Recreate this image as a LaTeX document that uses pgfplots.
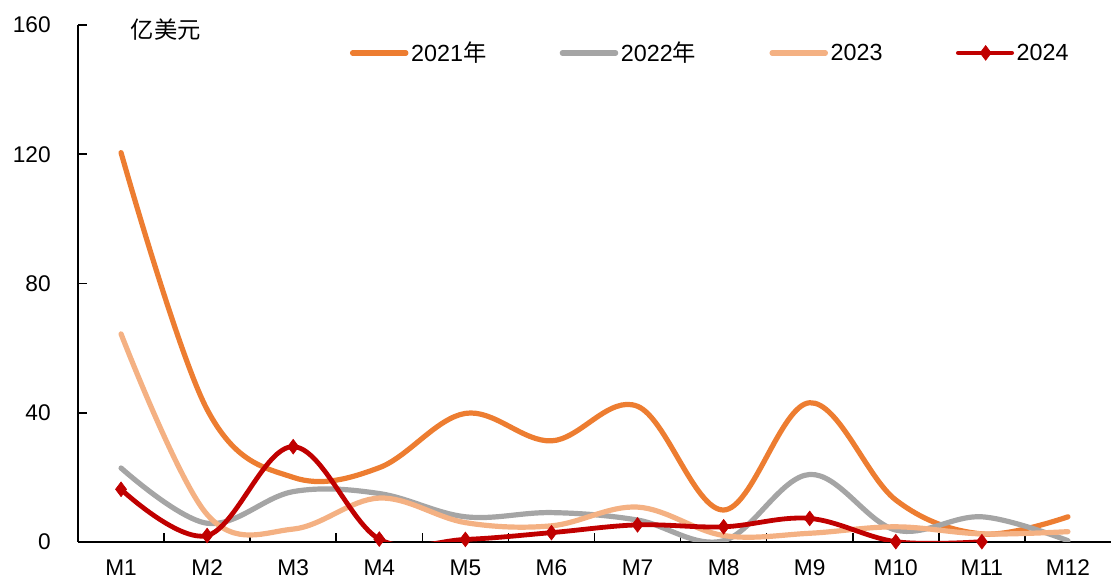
\documentclass[border=0pt]{standalone}
\usepackage{fontspec}
\setmainfont{Liberation Sans}
\newfontfamily\cjk{Noto Sans CJK SC}
\usepackage{pgfplots}
\pgfplotsset{compat=1.18}
\usetikzlibrary{calc}
\definecolor{c21}{HTML}{ED7D31}
\definecolor{c22}{HTML}{A5A5A5}
\definecolor{c23}{HTML}{F4B183}
\definecolor{c24}{HTML}{C00000}
\begin{document}
\begin{tikzpicture}
\begin{axis}[
  scale only axis, width=774.75pt, height=387.75pt,
  xmin=0.5, xmax=12.5, ymin=0, ymax=160,
  axis x line=bottom, axis y line=left,
  axis line style={line width=1.2pt,-},
  tick align=inside,
  xtick={1.5,2.5,...,11.5}, xticklabels={},
  major tick length=6.5pt,
  tick style={line width=1.2pt, black},
  extra x ticks={1,2,...,12},
  extra x tick labels={M1,M2,M3,M4,M5,M6,M7,M8,M9,M10,M11,M12},
  extra x tick style={major tick length=0pt},
  ytick={0,40,80,120,160},
  every tick label/.append style={font=\fontsize{17}{20}\selectfont, black},
  /pgf/number format/assume math mode=true,
  xticklabel style={yshift=-10pt},
  yticklabel style={xshift=-17pt},
  legend columns=4,
  legend cell align=left,
  legend style={at={(0.263,0.946)}, anchor=west, draw=none, fill=none, inner sep=0pt,
    font=\fontsize{17.5}{20}\selectfont,
    /tikz/every even column/.append style={column sep=53pt}},
  legend image code/.code={\draw[mark repeat=2,mark phase=2,#1] plot coordinates {(0pt,0pt) (20.5pt,0pt) (40pt,0pt)};},
  clip mode=individual,
]
\addplot[c21, line width=3.9pt, smooth, tension=0.6, line cap=round] coordinates {
(1,120.5) (2,41) (3,20) (4,23) (5,39.8) (6,31.3) (7,42) (8,9.9) (9,43.1) (10,13) (11,2.5) (12,7.8)};
\addlegendentry{2021{\cjk 年}}
\addplot[c22, line width=3.9pt, smooth, tension=0.6, line cap=round] coordinates {
(1,22.9) (2,5.8) (3,15.6) (4,15) (5,7.8) (6,9.1) (7,6.8) (8,0.4) (9,20.9) (10,3.7) (11,7.8) (12,0.4)};
\addlegendentry{2022{\cjk 年}}
\addplot[c23, line width=3.9pt, smooth, tension=0.6, line cap=round] coordinates {
(1,64.4) (2,8.5) (3,4) (4,13.6) (5,6) (6,5) (7,10.8) (8,2) (9,2.7) (10,4.7) (11,2.5) (12,3.2)};
\addlegendentry{2023}
\addplot[c24, line width=3.6pt, smooth, tension=0.6, line cap=round, mark=diamond*, mark size=5.5pt, mark options={solid, line width=0.5pt}] coordinates {
(1,16.3) (2,2) (3,29.5) (4,0.9) (5,0.8) (6,2.9) (7,5.3) (8,4.7) (9,7.3) (10,0.1) (11,0.1)};
\addlegendentry{2024}
\coordinate (ll) at (rel axis cs:0,0);
\coordinate (ur) at (rel axis cs:1,1);
\coordinate (ul) at (rel axis cs:0.051,0.992);
\end{axis}
\node[anchor=west, inner sep=0pt, font=\fontsize{17.5}{20}\selectfont] at (ul) {\cjk 亿美元};
\pgfresetboundingbox
\path[use as bounding box] ($(ll)+(-58.5pt,-32.25pt)$) rectangle ($(ur)+(0pt,18.75pt)$);
\end{tikzpicture}
\end{document}
